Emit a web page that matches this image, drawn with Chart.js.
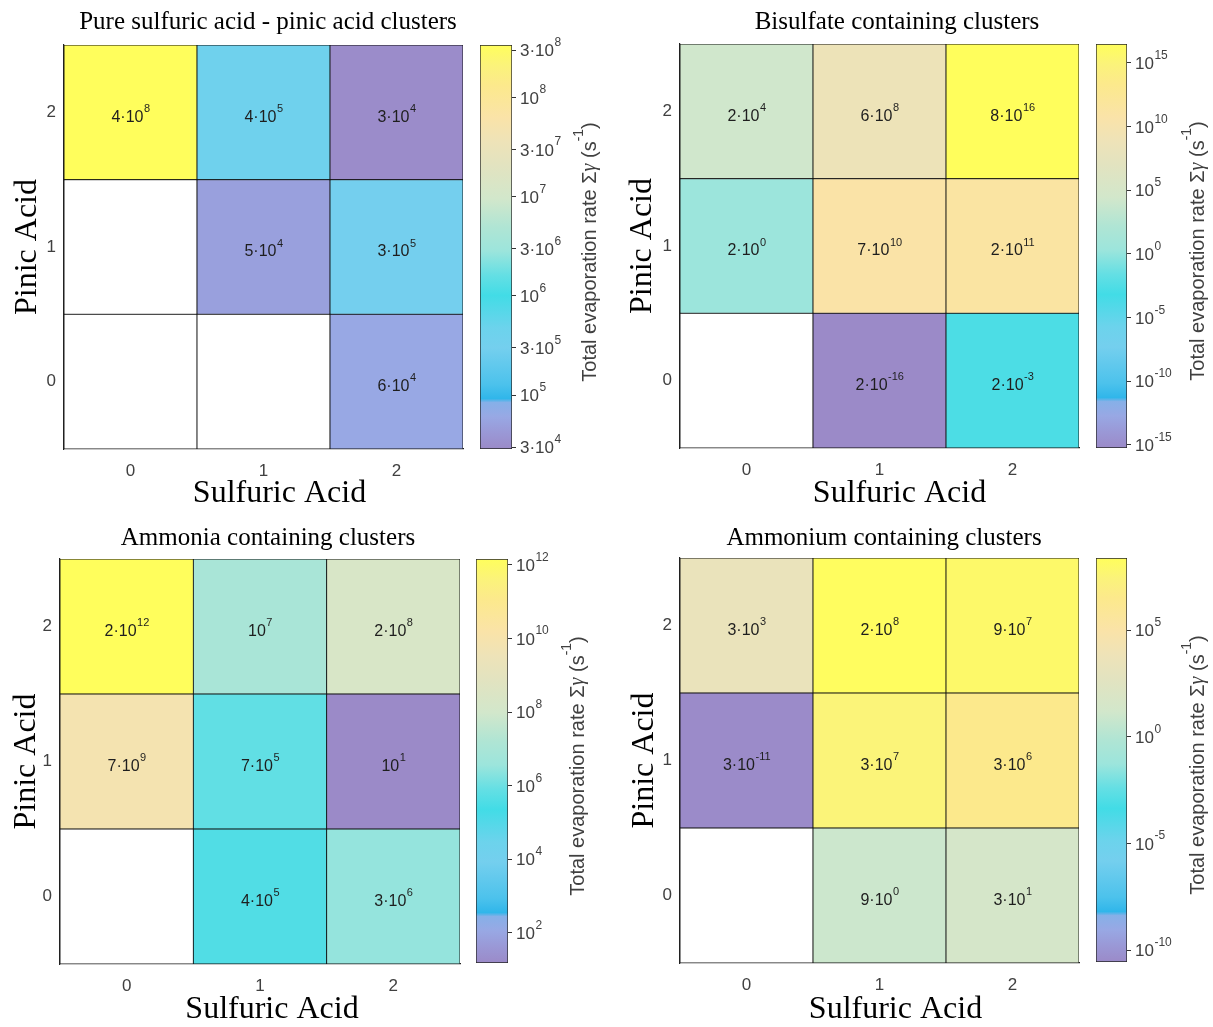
<!DOCTYPE html>
<html>
<head>
<meta charset="utf-8">
<script src="https://cdn.jsdelivr.net/npm/chart.js@4.4.1/dist/chart.umd.min.js"></script>
<style>
  body { margin: 0; background: #fff; }
  #page { position: relative; width: 1213px; height: 1027px; overflow: hidden; background: #fff; }
  canvas { position: absolute; }
</style>
</head>
<body>
<div id="page">
  <canvas id="hmPure" width="536" height="520" style="left:0;top:0"></canvas>
  <canvas id="cbPure" width="143" height="520" style="left:470px;top:0"></canvas>
  <canvas id="hmBisulfate" width="574" height="520" style="left:610px;top:0"></canvas>
  <canvas id="cbBisulfate" width="127" height="520" style="left:1086px;top:0"></canvas>
  <canvas id="hmAmmonia" width="536" height="507" style="left:0;top:520px"></canvas>
  <canvas id="cbAmmonia" width="144" height="507" style="left:466px;top:520px"></canvas>
  <canvas id="hmAmmonium" width="548" height="507" style="left:610px;top:520px"></canvas>
  <canvas id="cbAmmonium" width="127" height="507" style="left:1086px;top:520px"></canvas>
</div>
<script>
// axes
const sulfuricLabels = ['0', '1', '2'];
const pinicLevels = [0, 1, 2];

// total evaporation rates (1/s), one row per pinic acid count, columns = sulfuric acid 0,1,2
// null = cluster not in the set (white cell)
const pureRates = [
    [null, null, 6e4],
    [null, 5e4, 3e5],
    [4e8, 4e5, 3e4]
];
const bisulfateRates = [
    [null, 2e-16, 2e-3],
    [2e0, 7e10, 2e11],
    [2e4, 6e8, 8e16]
];
const ammoniaRates = [
    [null, 4e5, 3e6],
    [7e9, 7e5, 1e1],
    [2e12, 1e7, 2e8]
];
const ammoniumRates = [
    [null, 9e0, 3e1],
    [3e-11, 3e7, 3e6],
    [3e3, 2e8, 9e7]
];

// colour limits (log10) and colorbar ticks
const pureRange = [4.457, 8.53];
const bisulfateRange = [-15.24, 16.49];
const ammoniaRange = [1.18, 12.16];
const ammoniumRange = [-10.56, 8.38];

const pureTicks = [3e4, 1e5, 3e5, 1e6, 3e6, 1e7, 3e7, 1e8, 3e8];
const bisulfateTicks = [1e-15, 1e-10, 1e-5, 1e0, 1e5, 1e10, 1e15];
const ammoniaTicks = [1e2, 1e4, 1e6, 1e8, 1e10, 1e12];
const ammoniumTicks = [1e-10, 1e-5, 1e0, 1e5];

const SANS = '"Liberation Sans", Arial, sans-serif';
const SERIF = '"Liberation Serif", "Times New Roman", serif';

// parula-like pastel colormap
const cmapStops = [
    [0.00, '#9b8ac8'],
    [0.04, '#9a98d6'],
    [0.08, '#98a8e4'],
    [0.115, '#86b0e8'],
    [0.125, '#30b6ea'],
    [0.16, '#4cc2ec'],
    [0.25, '#74cfee'],
    [0.30, '#6cd3ec'],
    [0.38, '#42dce6'],
    [0.43, '#64dfe4'],
    [0.49, '#9ce5dc'],
    [0.55, '#b0e5d4'],
    [0.62, '#d2e7cb'],
    [0.70, '#e2e3c0'],
    [0.76, '#eee3b8'],
    [0.82, '#fae3a8'],
    [0.90, '#fce98c'],
    [0.95, '#fbf37a'],
    [1.00, '#fffe5c']
];

function hexToRgb(h) {
    return [parseInt(h.slice(1, 3), 16), parseInt(h.slice(3, 5), 16), parseInt(h.slice(5, 7), 16)];
}

function cmap(t) {
    t = Math.max(0, Math.min(1, t));
    for (let i = 1; i < cmapStops.length; i++) {
        const [p1, c1] = cmapStops[i];
        const [p0, c0] = cmapStops[i - 1];
        if (t <= p1) {
            const f = (t - p0) / (p1 - p0);
            const a = hexToRgb(c0), b = hexToRgb(c1);
            const rgb = a.map((v, k) => Math.round(v + (b[k] - v) * f));
            return 'rgb(' + rgb.join(',') + ')';
        }
    }
    return cmapStops[cmapStops.length - 1][1];
}

function rateColor(v, range) {
    if (v == null) return '#ffffff';
    return cmap((Math.log10(v) - range[0]) / (range[1] - range[0]));
}

// draws m·10^e with a raised exponent
function drawSci(ctx, v, x, y, size, align, color) {
    let exp = Math.floor(Math.log10(v) + 1e-9);
    let mant = Math.round(v / Math.pow(10, exp));
    if (mant >= 10) { mant = 1; exp += 1; }
    const base = mant === 1 ? '10' : mant + '\u00b710';
    const sup = String(exp);
    const baseFont = size + 'px ' + SANS;
    const supFont = Math.round(size * 0.68) + 'px ' + SANS;
    ctx.font = baseFont;
    const wb = ctx.measureText(base).width;
    ctx.font = supFont;
    const ws = ctx.measureText(sup).width;
    const x0 = align === 'left' ? x : x - (wb + ws) / 2;
    const baseline = y + size * 0.36;
    ctx.fillStyle = color;
    ctx.textAlign = 'left';
    ctx.textBaseline = 'alphabetic';
    ctx.font = baseFont;
    ctx.fillText(base, x0, baseline);
    ctx.font = supFont;
    ctx.fillText(sup, x0 + wb + 0.5, baseline - size * 0.6);
}

// value labels in the cells
const cellLabels = {
    id: 'cellLabels',
    afterDatasetsDraw(chart) {
        const ctx = chart.ctx;
        ctx.save();
        chart.data.datasets.forEach((ds, d) => {
            const meta = chart.getDatasetMeta(d);
            ds.rates.forEach((v, i) => {
                if (v == null) return;
                const el = meta.data[i];
                drawSci(ctx, v, el.x, (el.y + el.base) / 2 + 3.5, 16, 'center', '#1e1e1e');
            });
        });
        ctx.restore();
    }
};

function makeHeatmap(id, title, rates, range, box) {
    const datasets = pinicLevels.map(p => ({
        data: sulfuricLabels.map(() => [p - 0.5, p + 0.5]),
        rates: rates[p],
        backgroundColor: rates[p].map(v => rateColor(v, range)),
        borderColor: '#101010',
        borderWidth: 0.8,
        borderSkipped: false,
        barPercentage: 1,
        categoryPercentage: 1,
        grouped: false
    }));

    return new Chart(document.getElementById(id), {
        type: 'bar',
        data: { labels: sulfuricLabels, datasets: datasets },
        options: {
            responsive: false,
            animation: false,
            layout: { padding: 0 },
            scales: {
                x: {
                    grid: { display: false, drawTicks: false },
                    border: { display: true, color: '#202020', width: 1.2 },
                    ticks: { color: '#404040', font: { family: SANS, size: 17 }, padding: 12 },
                    title: {
                        display: true, text: '\u00a0'.repeat(box.xTitleShift) + 'Sulfuric Acid', color: '#000',
                        font: { family: SERIF, size: 32, lineHeight: 1 },
                        padding: { top: 0, bottom: box.xTitlePad }
                    },
                    afterFit: s => { s.height = box.xAxisH; }
                },
                y: {
                    type: 'linear', min: -0.5, max: 2.5,
                    afterBuildTicks: s => { s.ticks = pinicLevels.map(v => ({ value: v })); },
                    grid: { display: false, drawTicks: false },
                    border: { display: true, color: '#202020', width: 1.2 },
                    ticks: { color: '#404040', font: { family: SANS, size: 17 }, padding: 8 },
                    title: {
                        display: true, text: 'Pinic Acid', color: '#000',
                        font: { family: SERIF, size: 32, lineHeight: 1 },
                        padding: { top: box.yTitlePad, bottom: 0 }
                    },
                    afterFit: s => { s.width = box.yAxisW; }
                },
                yPad: {
                    type: 'linear', position: 'right', display: true,
                    grid: { display: false }, border: { display: false }, ticks: { display: false },
                    afterFit: s => { s.width = box.rightW; }
                }
            },
            plugins: {
                legend: { display: false },
                tooltip: { enabled: false },
                title: {
                    display: true, text: title, color: '#000',
                    font: { family: SERIF, size: 25, weight: 'normal', lineHeight: 1.2 },
                    padding: { top: box.titleTop, bottom: box.titleBottom }
                }
            }
        },
        plugins: [cellLabels]
    });
}

// tick labels and rotated label for the colorbars
const cbarText = {
    id: 'cbarText',
    afterDraw(chart, args, opts) {
        const ctx = chart.ctx;
        const scale = chart.scales.y;
        const area = chart.chartArea;
        ctx.save();
        opts.ticks.forEach(v => {
            drawSci(ctx, v, area.right + 8, scale.getPixelForValue(v), 17, 'left', '#404040');
        });
        // "Total evaporation rate Σγ (s^-1)" reading bottom to top
        const size = 20;
        const runs = [
            { t: 'Total evaporation rate \u03a3', f: size + 'px ' + SANS, dy: 0 },
            { t: '\u03b3', f: 'italic ' + size + 'px ' + SERIF, dy: 0 },
            { t: ' (s', f: size + 'px ' + SANS, dy: 0 },
            { t: '-1', f: Math.round(size * 0.68) + 'px ' + SANS, dy: -size * 0.55 },
            { t: ')', f: size + 'px ' + SANS, dy: 0 }
        ];
        let total = 0;
        runs.forEach(r => { ctx.font = r.f; r.w = ctx.measureText(r.t).width; total += r.w; });
        ctx.translate(opts.labelX, (area.top + area.bottom) / 2 + 5);
        ctx.rotate(-Math.PI / 2);
        ctx.fillStyle = '#404040';
        ctx.textAlign = 'left';
        ctx.textBaseline = 'middle';
        let x = -total / 2;
        runs.forEach(r => {
            ctx.font = r.f;
            ctx.fillText(r.t, x, r.dy);
            x += r.w;
        });
        ctx.restore();
    }
};

function makeColorbar(id, range, ticks, box) {
    const lo = Math.pow(10, range[0]);
    const hi = Math.pow(10, range[1]);
    return new Chart(document.getElementById(id), {
        type: 'bar',
        data: {
            labels: [''],
            datasets: [{
                data: [[lo, hi]],
                backgroundColor: context => {
                    const area = context.chart.chartArea;
                    if (!area) return null;
                    const g = context.chart.ctx.createLinearGradient(0, area.bottom, 0, area.top);
                    cmapStops.forEach(([p, c]) => g.addColorStop(p, c));
                    return g;
                },
                borderColor: '#262626',
                borderWidth: 1,
                borderSkipped: false,
                barPercentage: 1,
                categoryPercentage: 1
            }]
        },
        options: {
            responsive: false,
            animation: false,
            layout: { padding: { left: box.left, right: 0, top: box.top, bottom: box.bottom } },
            scales: {
                x: { display: false },
                y: {
                    type: 'logarithmic', position: 'right', min: lo, max: hi,
                    afterBuildTicks: s => { s.ticks = ticks.map(v => ({ value: v })); },
                    grid: { display: true, drawOnChartArea: false, drawTicks: true, tickLength: 4, color: '#333333' },
                    border: { display: false },
                    ticks: { display: false },
                    afterFit: s => { s.width = box.axisW; }
                }
            },
            plugins: {
                legend: { display: false },
                tooltip: { enabled: false },
                cbarText: { ticks: ticks, labelX: box.labelX }
            }
        },
        plugins: [cbarText]
    });
}

makeHeatmap('hmPure', 'Pure sulfuric acid - pinic acid clusters', pureRates, pureRange,
    { yAxisW: 64, rightW: 73, titleTop: 7, titleBottom: 8, xAxisH: 71, xTitlePad: 10, yTitlePad: 12, xTitleShift: 4 });
makeColorbar('cbPure', pureRange, pureTicks, { left: 10, top: 45, bottom: 71, axisW: 101, labelX: 120 });

makeHeatmap('hmBisulfate', 'Bisulfate containing clusters', bisulfateRates, bisulfateRange,
    { yAxisW: 70, rightW: 105, titleTop: 7, titleBottom: 7, xAxisH: 72, xTitlePad: 10, yTitlePad: 17, xTitleShift: 5 });
makeColorbar('cbBisulfate', bisulfateRange, bisulfateTicks, { left: 10, top: 44, bottom: 72, axisW: 86, labelX: 112 });

makeHeatmap('hmAmmonia', 'Ammonia containing clusters', ammoniaRates, ammoniaRange,
    { yAxisW: 60, rightW: 76, titleTop: 3, titleBottom: 6, xAxisH: 63, xTitlePad: 1, yTitlePad: 11, xTitleShift: 3 });
makeColorbar('cbAmmonia', ammoniaRange, ammoniaTicks, { left: 10, top: 39, bottom: 64, axisW: 102, labelX: 112 });

makeHeatmap('hmAmmonium', 'Ammonium containing clusters', ammoniumRates, ammoniumRange,
    { yAxisW: 70, rightW: 79, titleTop: 3, titleBottom: 5, xAxisH: 64, xTitlePad: 1, yTitlePad: 19, xTitleShift: 4 });
makeColorbar('cbAmmonium', ammoniumRange, ammoniumTicks, { left: 10, top: 38, bottom: 65, axisW: 86, labelX: 112 });
</script>
</body>
</html>
